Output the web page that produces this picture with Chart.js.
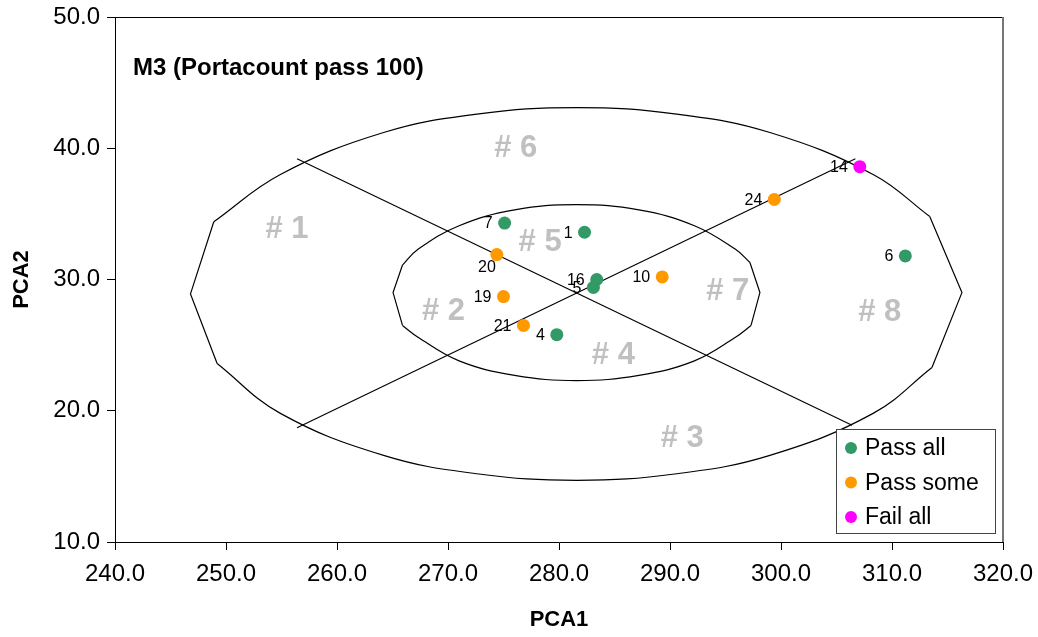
<!DOCTYPE html>
<html>
<head>
<meta charset="utf-8">
<script src="https://cdn.jsdelivr.net/npm/chart.js@4.4.0/dist/chart.umd.min.js"></script>
<style>
body{margin:0;background:#fff;}
</style>
</head>
<body>
<canvas id="pcaChart" width="1038" height="637"></canvas>
<script>
// point groups (PCA1 / PCA2)
const passAllIds = ['1', '4', '5', '6', '7', '16'];
const passAllX = [282.3, 279.8, 283.1, 311.2, 275.1, 283.4];
const passAllY = [33.6, 25.8, 29.4, 31.8, 34.3, 30.0];

const passSomeIds = ['10', '19', '20', '21', '24'];
const passSomeX = [289.3, 275.0, 274.4, 276.8, 299.4];
const passSomeY = [30.2, 28.7, 31.9, 26.5, 36.1];

const failAllIds = ['14'];
const failAllX = [307.1];
const failAllY = [38.6];

const seriesNames = ['Pass all', 'Pass some', 'Fail all'];

// outer ellipse
const outerTopX = [248.9, 254.9, 264.2, 272.6, 281.6, 290.6, 299.0, 308.3, 313.4];
const outerTopY = [34.4, 38.0, 41.2, 42.6, 43.1, 42.6, 41.2, 38.0, 34.8];
const outerBottomX = [249.2, 254.9, 264.2, 272.6, 281.6, 290.6, 299.0, 308.3, 313.6];
const outerBottomY = [23.6, 19.8, 16.6, 15.2, 14.7, 15.2, 16.6, 19.8, 23.3];
const outerLeftX = [248.9, 246.8, 249.2];
const outerLeftY = [34.4, 28.9, 23.6];
const outerRightX = [313.4, 316.3, 313.6];
const outerRightY = [34.8, 29.0, 23.3];

// inner ellipse
const innerTopX = [265.9, 267.3, 271.0, 276.0, 281.6, 287.2, 292.2, 295.9, 297.2];
const innerTopY = [31.1, 32.3, 34.1, 35.3, 35.7, 35.3, 34.1, 32.3, 31.3];
const innerBottomX = [265.9, 267.3, 271.0, 276.0, 281.6, 287.2, 292.2, 295.9, 297.3];
const innerBottomY = [26.5, 25.6, 23.8, 22.7, 22.3, 22.7, 23.8, 25.6, 26.5];
const innerLeftX = [265.9, 265.05, 265.9];
const innerLeftY = [31.1, 29.0, 26.5];
const innerRightX = [297.2, 298.1, 297.3];
const innerRightY = [31.3, 29.0, 26.5];

// the two crossing lines
const crossAX = [256.4, 306.4];
const crossAY = [39.2, 18.9];
const crossBX = [256.4, 306.7];
const crossBY = [18.7, 39.2];

// zone labels
const zoneNames = ['# 1', '# 2', '# 3', '# 4', '# 5', '# 6', '# 7', '# 8'];
const zoneX = [255.5, 269.6, 291.1, 284.9, 278.3, 276.1, 295.2, 308.9];
const zoneY = [33.85, 27.6, 17.9, 24.25, 32.8, 40.0, 29.1, 27.5];

const xTicks = [240, 250, 260, 270, 280, 290, 300, 310, 320];
const yTicks = [10, 20, 30, 40, 50];

const FONT = "'Liberation Sans', Arial, sans-serif";

function pts(xs, ys) {
  return xs.map((x, i) => ({x: x, y: ys[i]}));
}

function outline(xs, ys, tension) {
  return {
    data: pts(xs, ys),
    showLine: true,
    borderColor: '#000',
    borderWidth: 1.2,
    pointRadius: 0,
    pointHoverRadius: 0,
    tension: tension,
    fill: false,
    order: 2
  };
}

function group(name, ids, xs, ys, color) {
  return {
    label: name,
    ids: ids,
    data: pts(xs, ys),
    backgroundColor: color,
    borderColor: color,
    borderWidth: 0,
    pointRadius: 6.5,
    pointHoverRadius: 6.5,
    order: 0
  };
}

const groups = [
  group(seriesNames[0], passAllIds, passAllX, passAllY, '#339966'),
  group(seriesNames[1], passSomeIds, passSomeX, passSomeY, '#FF9900'),
  group(seriesNames[2], failAllIds, failAllX, failAllY, '#FF00FF')
];

// extra label nudges (pixels)
const labelNudge = {'20': [11, 12]};

const decorPlugin = {
  id: 'decor',
  beforeDatasetsDraw(chart) {
    const {ctx, chartArea, scales} = chart;
    ctx.save();
    // top + right frame
    ctx.strokeStyle = '#000';
    ctx.lineWidth = 1;
    ctx.beginPath();
    ctx.moveTo(chartArea.left, chartArea.top + 0.5);
    ctx.lineTo(chartArea.right, chartArea.top + 0.5);
    ctx.stroke();
    ctx.strokeStyle = '#777';
    ctx.lineWidth = 2;
    ctx.beginPath();
    ctx.moveTo(chartArea.right, chartArea.top);
    ctx.lineTo(chartArea.right, chartArea.bottom);
    ctx.stroke();
    // zone labels
    ctx.fillStyle = '#c0c0c0';
    ctx.font = 'bold 31px ' + FONT;
    ctx.textAlign = 'center';
    ctx.textBaseline = 'middle';
    zoneNames.forEach((z, i) => {
      ctx.fillText(z, scales.x.getPixelForValue(zoneX[i]), scales.y.getPixelForValue(zoneY[i]));
    });
    // title
    ctx.fillStyle = '#000';
    ctx.font = 'bold 24px ' + FONT;
    ctx.textAlign = 'left';
    ctx.fillText('M3 (Portacount pass 100)', chartArea.left + 18, chartArea.top + 51);
    ctx.restore();
  },
  afterDatasetsDraw(chart) {
    const {ctx, chartArea} = chart;
    ctx.save();
    // point ids
    ctx.fillStyle = '#000';
    ctx.font = '16px ' + FONT;
    ctx.textAlign = 'right';
    ctx.textBaseline = 'middle';
    chart.data.datasets.forEach((ds, di) => {
      if (!ds.ids) return;
      const meta = chart.getDatasetMeta(di);
      ds.ids.forEach((id, i) => {
        const p = meta.data[i];
        const n = labelNudge[id] || [0, 0];
        ctx.fillText(id, p.x - 12 + n[0], p.y + 1 + n[1]);
      });
    });
    // legend box
    const bx = chartArea.right - 167, by = chartArea.bottom - 113;
    const bw = 159, bh = 104;
    ctx.fillStyle = '#fff';
    ctx.fillRect(bx, by, bw, bh);
    ctx.strokeStyle = '#444';
    ctx.lineWidth = 1;
    ctx.strokeRect(bx + 0.5, by + 0.5, bw, bh);
    ctx.font = '23px ' + FONT;
    ctx.textAlign = 'left';
    groups.forEach((g, i) => {
      const cy = by + 19 + i * 34.5;
      ctx.fillStyle = g.backgroundColor;
      ctx.beginPath();
      ctx.arc(bx + 15, cy, 6, 0, Math.PI * 2);
      ctx.fill();
      ctx.fillStyle = '#000';
      ctx.fillText(g.label, bx + 29, cy + 1);
    });
    ctx.restore();
  }
};

const ctx = document.getElementById('pcaChart');
const pcaChart = new Chart(ctx, {
  type: 'scatter',
  data: {
    datasets: groups.concat([
      outline(outerTopX, outerTopY, 0.4),
      outline(outerBottomX, outerBottomY, 0.4),
      outline(outerLeftX, outerLeftY, 0),
      outline(outerRightX, outerRightY, 0),
      outline(innerTopX, innerTopY, 0.4),
      outline(innerBottomX, innerBottomY, 0.4),
      outline(innerLeftX, innerLeftY, 0),
      outline(innerRightX, innerRightY, 0),
      outline(crossAX, crossAY, 0),
      outline(crossBX, crossBY, 0)
    ])
  },
  options: {
    responsive: false,
    animation: false,
    devicePixelRatio: 1,
    layout: {padding: {top: 17, right: 35, left: 0, bottom: 0}},
    plugins: {legend: {display: false}, tooltip: {enabled: false}},
    scales: {
      x: {
        type: 'linear',
        min: 240,
        max: 320,
        afterBuildTicks: (s) => { s.ticks = xTicks.map(v => ({value: v})); },
        afterFit: (s) => { s.height = 95; s.paddingLeft = 0; s.paddingRight = 0; },
        ticks: {
          color: '#000',
          font: {family: FONT, size: 24},
          padding: 10,
          maxRotation: 0,
          callback: (v) => v.toFixed(1)
        },
        grid: {drawOnChartArea: false, color: '#000', tickLength: 8},
        border: {color: '#000', width: 1},
        title: {
          display: true,
          text: 'PCA1',
          color: '#000',
          font: {family: FONT, size: 22, weight: 'bold'},
          padding: {top: 0, bottom: 4}
        }
      },
      y: {
        type: 'linear',
        min: 10,
        max: 50,
        afterBuildTicks: (s) => { s.ticks = yTicks.map(v => ({value: v})); },
        afterFit: (s) => { s.width = 115; s.paddingTop = 0; s.paddingBottom = 0; },
        ticks: {
          color: '#000',
          font: {family: FONT, size: 24},
          padding: 7,
          callback: (v) => v.toFixed(1)
        },
        grid: {drawOnChartArea: false, color: '#000', tickLength: 8},
        border: {color: '#000', width: 1},
        title: {
          display: true,
          text: 'PCA2',
          color: '#000',
          font: {family: FONT, size: 22, weight: 'bold'},
          padding: {top: 9, bottom: 0}
        }
      }
    }
  },
  plugins: [decorPlugin]
});
</script>
</body>
</html>
